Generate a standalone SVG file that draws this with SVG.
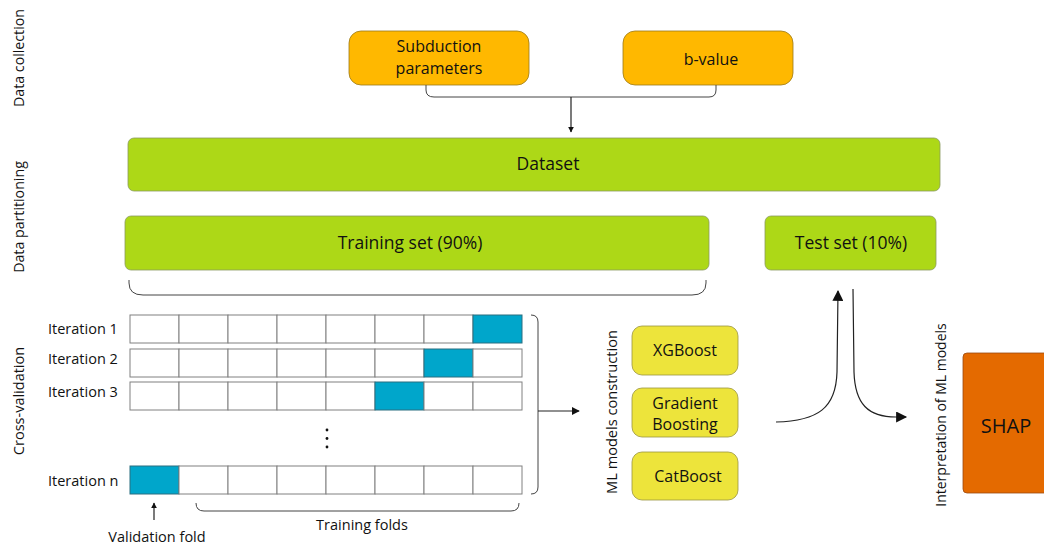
<svg xmlns="http://www.w3.org/2000/svg" width="1044" height="547" viewBox="0 0 1044 547">
<style>
text{font-family:"Open Sans","Liberation Sans",sans-serif;fill:#111}
.orange{fill:#FFB800;stroke:#9a7a1a;stroke-width:0.8}
.green{fill:#ADD817;stroke:#8a9a60;stroke-width:0.8}
.yellow{fill:#EDE43B;stroke:#9a9440;stroke-width:0.8}
.cell{fill:#fff;stroke:#808080;stroke-width:1}
.blue{fill:#00A6CB;stroke:#2a6f80;stroke-width:1}
.conn{fill:none;stroke:#222;stroke-width:1.2}
.brk{fill:none;stroke:#444;stroke-width:1}
.big{font-size:17.5px}
.mid{font-size:16px}
.sm{font-size:14.5px}
</style>
<defs>
<marker id="ah" viewBox="0 0 10 10" refX="9" refY="5" markerWidth="8" markerHeight="8" markerUnits="userSpaceOnUse" orient="auto"><path d="M0,0 L10,5 L0,10 z" fill="#111"/></marker>
<marker id="ahs" viewBox="0 0 10 10" refX="9" refY="5" markerWidth="6" markerHeight="6" markerUnits="userSpaceOnUse" orient="auto"><path d="M0,0 L10,5 L0,10 z" fill="#111"/></marker>
<marker id="ahl" viewBox="0 0 10 10" refX="9" refY="5" markerWidth="12" markerHeight="11" markerUnits="userSpaceOnUse" orient="auto"><path d="M0,0 L10,5 L0,10 z" fill="#111"/></marker>
</defs>

<!-- stage labels -->
<g id="stage-labels" class="sm">
<text transform="translate(24,58) rotate(-90)" text-anchor="middle" font-size="14.2">Data collection</text>
<text transform="translate(24,217) rotate(-90)" text-anchor="middle" font-size="14.2">Data partitioning</text>
<text transform="translate(24,401) rotate(-90)" text-anchor="middle" font-size="14.5">Cross-validation</text>
<text transform="translate(617,412) rotate(-90)" text-anchor="middle" font-size="14.6">ML models construction</text>
<text transform="translate(946,415) rotate(-90)" text-anchor="middle" font-size="14">Interpretation of ML models</text>
</g>

<g id="subduction">
<rect class="orange" x="349" y="31" width="180" height="54" rx="12"/>
<text class="mid" x="439" y="52" text-anchor="middle">Subduction</text>
<text class="mid" x="439" y="74" text-anchor="middle">parameters</text>
</g>
<g id="bvalue">
<rect class="orange" x="623" y="31" width="170" height="54" rx="12"/>
<text class="mid" x="711" y="65" text-anchor="middle">b-value</text>
</g>

<g id="dataset">
<rect class="green" x="128" y="138" width="812" height="53" rx="6"/>
<text class="big" x="548" y="170" text-anchor="middle">Dataset</text>
</g>
<g id="training-set">
<rect class="green" x="125" y="216" width="584" height="54" rx="6"/>
<text class="big" x="410" y="249" text-anchor="middle">Training set (90%)</text>
</g>
<g id="test-set">
<rect class="green" x="765" y="216" width="171" height="54" rx="6"/>
<text class="big" x="851" y="249" text-anchor="middle">Test set (10%)</text>
</g>

<!-- cross-validation grid -->
<g id="cv-grid">
<text class="sm" x="48" y="334">Iteration 1</text>
<text class="sm" x="48" y="364">Iteration 2</text>
<text class="sm" x="48" y="397">Iteration 3</text>
<text class="sm" x="48" y="486">Iteration n</text>
<g id="row1">
<rect class="cell" x="130" y="315" width="49" height="28"/><rect class="cell" x="179" y="315" width="49" height="28"/><rect class="cell" x="228" y="315" width="49" height="28"/><rect class="cell" x="277" y="315" width="49" height="28"/><rect class="cell" x="326" y="315" width="49" height="28"/><rect class="cell" x="375" y="315" width="49" height="28"/><rect class="cell" x="424" y="315" width="49" height="28"/><rect class="blue" x="473" y="315" width="49" height="28"/>
</g>
<g id="row2">
<rect class="cell" x="130" y="349" width="49" height="28"/><rect class="cell" x="179" y="349" width="49" height="28"/><rect class="cell" x="228" y="349" width="49" height="28"/><rect class="cell" x="277" y="349" width="49" height="28"/><rect class="cell" x="326" y="349" width="49" height="28"/><rect class="cell" x="375" y="349" width="49" height="28"/><rect class="blue" x="424" y="349" width="49" height="28"/><rect class="cell" x="473" y="349" width="49" height="28"/>
</g>
<g id="row3">
<rect class="cell" x="130" y="382" width="49" height="28"/><rect class="cell" x="179" y="382" width="49" height="28"/><rect class="cell" x="228" y="382" width="49" height="28"/><rect class="cell" x="277" y="382" width="49" height="28"/><rect class="cell" x="326" y="382" width="49" height="28"/><rect class="blue" x="375" y="382" width="49" height="28"/><rect class="cell" x="424" y="382" width="49" height="28"/><rect class="cell" x="473" y="382" width="49" height="28"/>
</g>
<g id="rown">
<rect class="blue" x="130" y="466" width="49" height="28"/><rect class="cell" x="179" y="466" width="49" height="28"/><rect class="cell" x="228" y="466" width="49" height="28"/><rect class="cell" x="277" y="466" width="49" height="28"/><rect class="cell" x="326" y="466" width="49" height="28"/><rect class="cell" x="375" y="466" width="49" height="28"/><rect class="cell" x="424" y="466" width="49" height="28"/><rect class="cell" x="473" y="466" width="49" height="28"/>
</g>
<circle cx="327" cy="430" r="1.4" fill="#111"/>
<circle cx="327" cy="438.5" r="1.4" fill="#111"/>
<circle cx="327" cy="447" r="1.4" fill="#111"/>
<text class="sm" x="362" y="530" text-anchor="middle" font-size="14.2">Training folds</text>
<text class="sm" x="157" y="542" text-anchor="middle" font-size="14.2">Validation fold</text>
</g>

<g id="xgboost">
<rect class="yellow" x="632" y="326" width="106" height="49" rx="10"/>
<text class="mid" x="685" y="356" text-anchor="middle">XGBoost</text>
</g>
<g id="gradient-boosting">
<rect class="yellow" x="632" y="388" width="106" height="49" rx="10"/>
<text class="mid" x="685" y="409" text-anchor="middle">Gradient</text>
<text class="mid" x="685" y="430" text-anchor="middle">Boosting</text>
</g>
<g id="catboost">
<rect class="yellow" x="632" y="452" width="106" height="48" rx="10"/>
<text class="mid" x="688" y="482" text-anchor="middle">CatBoost</text>
</g>

<g id="shap">
<rect x="963" y="353" width="95" height="140" rx="4" fill="#E46A00" stroke="#9a4a10" stroke-width="0.8"/>
<text x="1006" y="433" text-anchor="middle" font-size="20">SHAP</text>
</g>

<!-- connectors -->
<g id="connectors">
<path class="brk" d="M426,85 L426,90 Q426,97 434,97 L709,97 Q716,97 716,90 L716,85"/>
<path class="conn" d="M571,97 L571,132" marker-end="url(#ahs)" stroke-width="1"/>
<path class="brk" d="M129,280 L129,283 Q129,295 143,295 L692,295 Q706,295 706,283 L706,280"/>
<path class="brk" d="M531,315 Q538,315 538,322 L538,487 Q538,494 531,494"/>
<path class="conn" d="M538,411 L579,411" marker-end="url(#ah)"/>
<path class="brk" d="M196,503 Q196,511 204,511 L511,511 Q519,511 519,503"/>
<path class="conn" d="M154,520 L154,503" marker-end="url(#ahs)" stroke-width="1"/>
<path class="conn" d="M776,422 C818,421 836,408 837,372 L838,291" marker-end="url(#ahl)" stroke-width="1.4"/>
<path class="conn" d="M853,289 L854,372 C855,404 868,417 896,417 L906,417" marker-end="url(#ahl)" stroke-width="1.4"/>
</g>
</svg>
